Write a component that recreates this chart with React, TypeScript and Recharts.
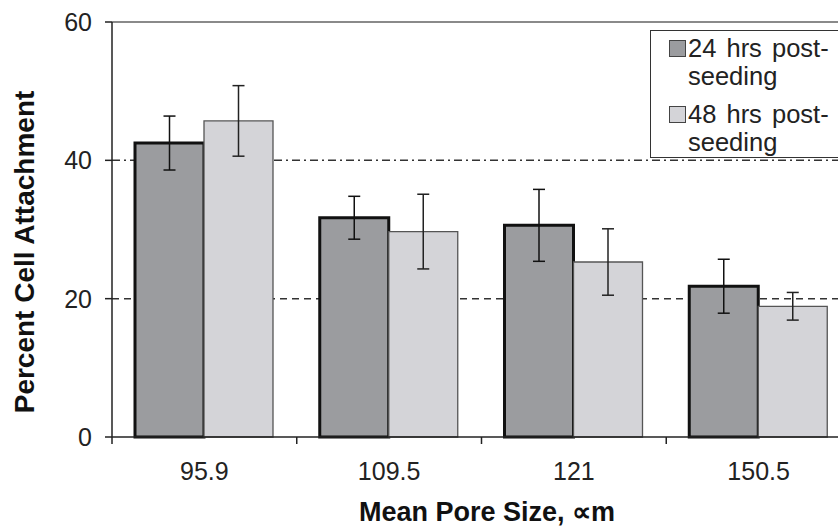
import React from 'react';
import { BarChart, Bar, XAxis, YAxis, CartesianGrid, ErrorBar } from 'recharts';

const categories = ['95.9', '109.5', '121', '150.5'];
const hrs24 = [42.5, 31.7, 30.6, 21.8];
const hrs48 = [45.7, 29.7, 25.3, 18.9];
const err24 = [3.9, 3.1, 5.2, 3.9];
const err48 = [5.1, 5.4, 4.8, 2.0];
const yTicks = [0, 20, 40, 60];

const data = categories.map((size, i) => ({
    size,
    h24: hrs24[i],
    h48: hrs48[i],
    e24: err24[i],
    e48: err48[i],
}));

const FONT = '"Liberation Sans", Arial, sans-serif';
const INK = '#222222';

const XTick = (props: any) => {
    const { x, y, payload } = props;
    const half = payload && payload.offset ? payload.offset : 92.4;
    return (
        <g>
            <line x1={x - half} x2={x - half} y1={y} y2={y + 7} stroke={INK} strokeWidth={1.5} />
            <text x={x} y={y + 43} textAnchor="middle" fontSize={25} fill={INK} fontFamily={FONT}>
                {payload.value}
            </text>
        </g>
    );
};

const YTick = (props: any) => {
    const { x, y, payload } = props;
    return (
        <text x={x} y={y + 9} textAnchor="end" fontSize={25} fill={INK} fontFamily={FONT}>
            {payload.value}
        </text>
    );
};

const LegendItem = ({ color, label }: { color: string; label: string }) => (
    <div style={{ position: 'relative', paddingLeft: 37, lineHeight: '28px', height: 56 }}>
        <div
            style={{
                position: 'absolute',
                left: 18,
                top: 6,
                width: 15,
                height: 15,
                background: color,
                border: '1px solid #444',
            }}
        ></div>
        <span style={{ wordSpacing: 3 }}>{label}</span>
        <br />
        seeding
    </div>
);

const App = () => {
    return (
        <div style={{ position: 'absolute', left: 0, top: 0, width: 838, height: 526, overflow: 'hidden', background: '#fff' }}>
            <BarChart
                width={855}
                height={526}
                data={data}
                margin={{ top: 22, right: 4, bottom: 0, left: 0 }}
                barGap={0}
                barCategoryGap={23}
            >
                <CartesianGrid horizontal vertical={false} horizontalValues={[60]} stroke="#8a8a8a" strokeWidth={2} />
                <CartesianGrid horizontal vertical={false} horizontalValues={[40]} stroke="#333" strokeWidth={1.5} strokeDasharray="8 4 2 4" />
                <CartesianGrid horizontal vertical={false} horizontalValues={[20]} stroke="#333" strokeWidth={1.5} strokeDasharray="7 5" />
                <XAxis
                    dataKey="size"
                    height={89}
                    interval={0}
                    tickLine={false}
                    tickSize={0}
                    tickMargin={0}
                    axisLine={{ stroke: INK, strokeWidth: 1.5 }}
                    tick={<XTick />}
                    label={{
                        content: () => (
                            <text x={487} y={521} textAnchor="middle" fontSize={27} fontWeight="bold" fill="#111" fontFamily={FONT}>
                                Mean Pore Size, ∝m
                            </text>
                        ),
                    }}
                />
                <YAxis
                    width={112}
                    domain={[0, 60]}
                    ticks={yTicks}
                    interval={0}
                    tickSize={7}
                    tickMargin={13}
                    tickLine={{ stroke: INK, strokeWidth: 1.5 }}
                    axisLine={{ stroke: INK, strokeWidth: 1.5 }}
                    tick={<YTick />}
                    label={{
                        content: () => (
                            <text x={-252} y={34} transform="rotate(-90)" textAnchor="middle" fontSize={28} fontWeight="bold" fill="#111" fontFamily={FONT}>
                                Percent Cell Attachment
                            </text>
                        ),
                    }}
                />
                <Bar dataKey="h24" fill="#9b9c9f" stroke="#111" strokeWidth={3} isAnimationActive={false}>
                    <ErrorBar dataKey="e24" width={6} stroke="#111" strokeWidth={1.5} direction="y" />
                </Bar>
                <Bar dataKey="h48" fill="#d4d4d8" stroke="#555" strokeWidth={1.3} isAnimationActive={false}>
                    <ErrorBar dataKey="e48" width={6} stroke="#222" strokeWidth={1.5} direction="y" />
                </Bar>
            </BarChart>
            <div
                style={{
                    position: 'absolute',
                    left: 650,
                    top: 30,
                    width: 220,
                    height: 128,
                    border: '1.5px solid #333',
                    background: '#fff',
                    fontFamily: FONT,
                    fontSize: 25.5,
                    color: INK,
                    paddingTop: 3,
                    boxSizing: 'border-box',
                }}
            >
                <LegendItem color="#9b9c9f" label="24 hrs post-" />
                <div style={{ height: 10 }}></div>
                <LegendItem color="#d4d4d8" label="48 hrs post-" />
            </div>
        </div>
    );
};

export default App;
